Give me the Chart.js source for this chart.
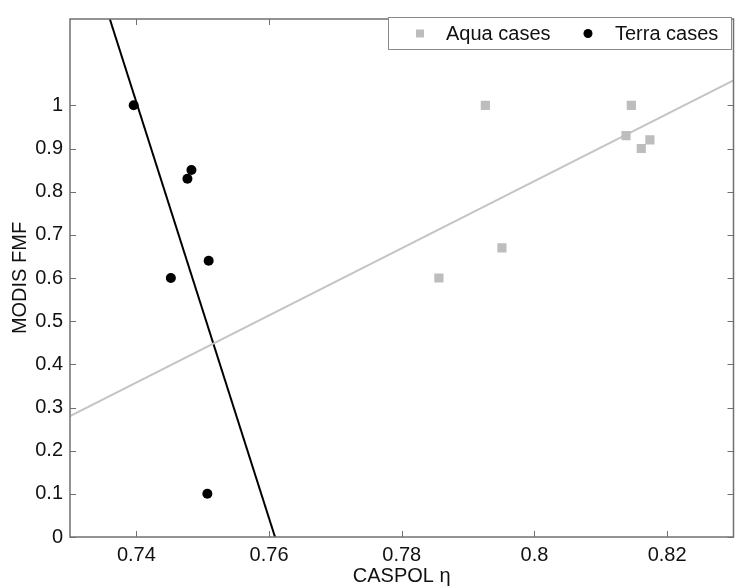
<!DOCTYPE html>
<html>
<head>
<meta charset="utf-8">
<script src="https://cdn.jsdelivr.net/npm/chart.js@4/dist/chart.umd.min.js"></script>
<style>
  html, body { margin: 0; padding: 0; background: #fff; overflow: hidden; }
  #box { width: 740px; height: 588px; }
</style>
</head>
<body>
<div id="box"><canvas id="myChart"></canvas></div>
<script>
  // values
  const aquaX = [0.7856, 0.7926, 0.7951, 0.8138, 0.8146, 0.8161, 0.8174];
  const aquaY = [0.60, 1.00, 0.67, 0.93, 1.00, 0.90, 0.92];
  const terraX = [0.7396, 0.7477, 0.7483, 0.7509, 0.7452, 0.7507];
  const terraY = [1.00, 0.83, 0.85, 0.64, 0.60, 0.10];

  // fitted lines, end points
  const aquaFitX = [0.73, 0.83];
  const aquaFitY = [0.28, 1.058];
  const terraFitX = [0.736, 0.7609];
  const terraFitY = [1.2, 0];

  const xTicks = [0.74, 0.76, 0.78, 0.8, 0.82];
  const yTicks = [0, 0.1, 0.2, 0.3, 0.4, 0.5, 0.6, 0.7, 0.8, 0.9, 1];

  const toPts = (xs, ys) => xs.map((x, i) => ({ x: x, y: ys[i] }));

  const FONT = "'Liberation Sans', Arial, Helvetica, sans-serif";
  const AXIS = "#707070";

  // box round the plot with inward ticks, matlab style
  const frame = {
    id: "frame",
    afterDraw(chart) {
      const ctx = chart.ctx, a = chart.chartArea;
      const sx = chart.scales.x, sy = chart.scales.y;
      ctx.save();
      ctx.strokeStyle = AXIS;
      ctx.lineWidth = 1.5;
      ctx.strokeRect(a.left, a.top, a.right - a.left, a.bottom - a.top);
      ctx.lineWidth = 1;
      ctx.beginPath();
      sx.ticks.forEach(t => {
        const px = Math.round(sx.getPixelForValue(t.value)) + 0.5;
        ctx.moveTo(px, a.bottom); ctx.lineTo(px, a.bottom - 6);
        ctx.moveTo(px, a.top); ctx.lineTo(px, a.top + 6);
      });
      sy.ticks.forEach(t => {
        const py = Math.round(sy.getPixelForValue(t.value)) + 0.5;
        ctx.moveTo(a.left, py); ctx.lineTo(a.left + 6, py);
        ctx.moveTo(a.right, py); ctx.lineTo(a.right - 6, py);
      });
      ctx.stroke();
      ctx.restore();
    }
  };

  // legend box in the upper right corner
  const boxLegend = {
    id: "boxLegend",
    afterDraw(chart) {
      const ctx = chart.ctx;
      const ds = chart.data.datasets;
      const x0 = 388.5, y0 = 17.5, w = 343, h = 32;
      ctx.save();
      ctx.fillStyle = "#fff";
      ctx.fillRect(x0, y0, w, h);
      ctx.strokeStyle = "#8a8a8a";
      ctx.lineWidth = 1;
      ctx.strokeRect(x0, y0, w, h);
      const cy = y0 + h / 2;
      ctx.fillStyle = ds[0].backgroundColor;
      ctx.fillRect(416, cy - 4, 8, 8);
      ctx.fillStyle = ds[1].backgroundColor;
      ctx.beginPath();
      ctx.arc(588, cy, 4.5, 0, Math.PI * 2);
      ctx.fill();
      ctx.fillStyle = "#111";
      ctx.font = "20px " + FONT;
      ctx.textBaseline = "middle";
      ctx.fillText(ds[0].label, 446, cy + 1);
      ctx.fillText(ds[1].label, 615, cy + 1);
      ctx.restore();
    }
  };

  const config_scatter = {
    type: "scatter",
    data: {
      datasets: [{
          label: "Aqua cases",
          data: toPts(aquaX, aquaY),
          pointStyle: "rect",
          pointRadius: 6.5,
          backgroundColor: "#bdbdbd",
          borderColor: "#bdbdbd",
          borderWidth: 0
        }, {
          label: "Terra cases",
          data: toPts(terraX, terraY),
          pointStyle: "circle",
          pointRadius: 5,
          backgroundColor: "#000",
          borderColor: "#000",
          borderWidth: 0
        }, {
          label: "Aqua fit",
          data: toPts(aquaFitX, aquaFitY),
          showLine: true,
          pointRadius: 0,
          borderColor: "#c4c4c4",
          borderWidth: 2
        }, {
          label: "Terra fit",
          data: toPts(terraFitX, terraFitY),
          showLine: true,
          pointRadius: 0,
          borderColor: "#000",
          borderWidth: 2
      }]
    },
    options: {
      responsive: true,
      maintainAspectRatio: false,
      animation: false,
      layout: { padding: { top: 9, right: 1, left: 0, bottom: 0 } },
      plugins: {
        legend: { display: false },
        tooltip: { enabled: false }
      },
      scales: {
        x: {
          type: "linear",
          min: 0.73,
          max: 0.83,
          afterBuildTicks: s => { s.ticks = xTicks.map(v => ({ value: v })); },
          afterFit: s => { s.height = 51; },
          grid: { display: false, drawTicks: false },
          border: { display: false },
          ticks: {
            color: "#111",
            font: { family: FONT, size: 20 },
            padding: 6,
            maxRotation: 0,
            callback: v => String(Number(v.toFixed(2)))
          },
          title: {
            display: true,
            text: "CASPOL η",
            color: "#111",
            font: { family: FONT, size: 20 },
            padding: { top: 0, bottom: 0 }
          }
        },
        y: {
          type: "linear",
          min: 0,
          max: 1.2,
          afterBuildTicks: s => { s.ticks = yTicks.map(v => ({ value: v })); },
          afterFit: s => { s.width = 70; },
          grid: { display: false, drawTicks: false },
          border: { display: false },
          ticks: {
            color: "#111",
            font: { family: FONT, size: 20 },
            padding: 7,
            callback: v => String(Number(v.toFixed(1)))
          },
          title: {
            display: true,
            text: "MODIS FMF",
            color: "#111",
            font: { family: FONT, size: 20 },
            padding: { top: 8, bottom: 0 }
          }
        }
      }
    },
    plugins: [frame, boxLegend]
  };

  var myChart = new Chart(document.getElementById("myChart"), config_scatter);
</script>
</body>
</html>
